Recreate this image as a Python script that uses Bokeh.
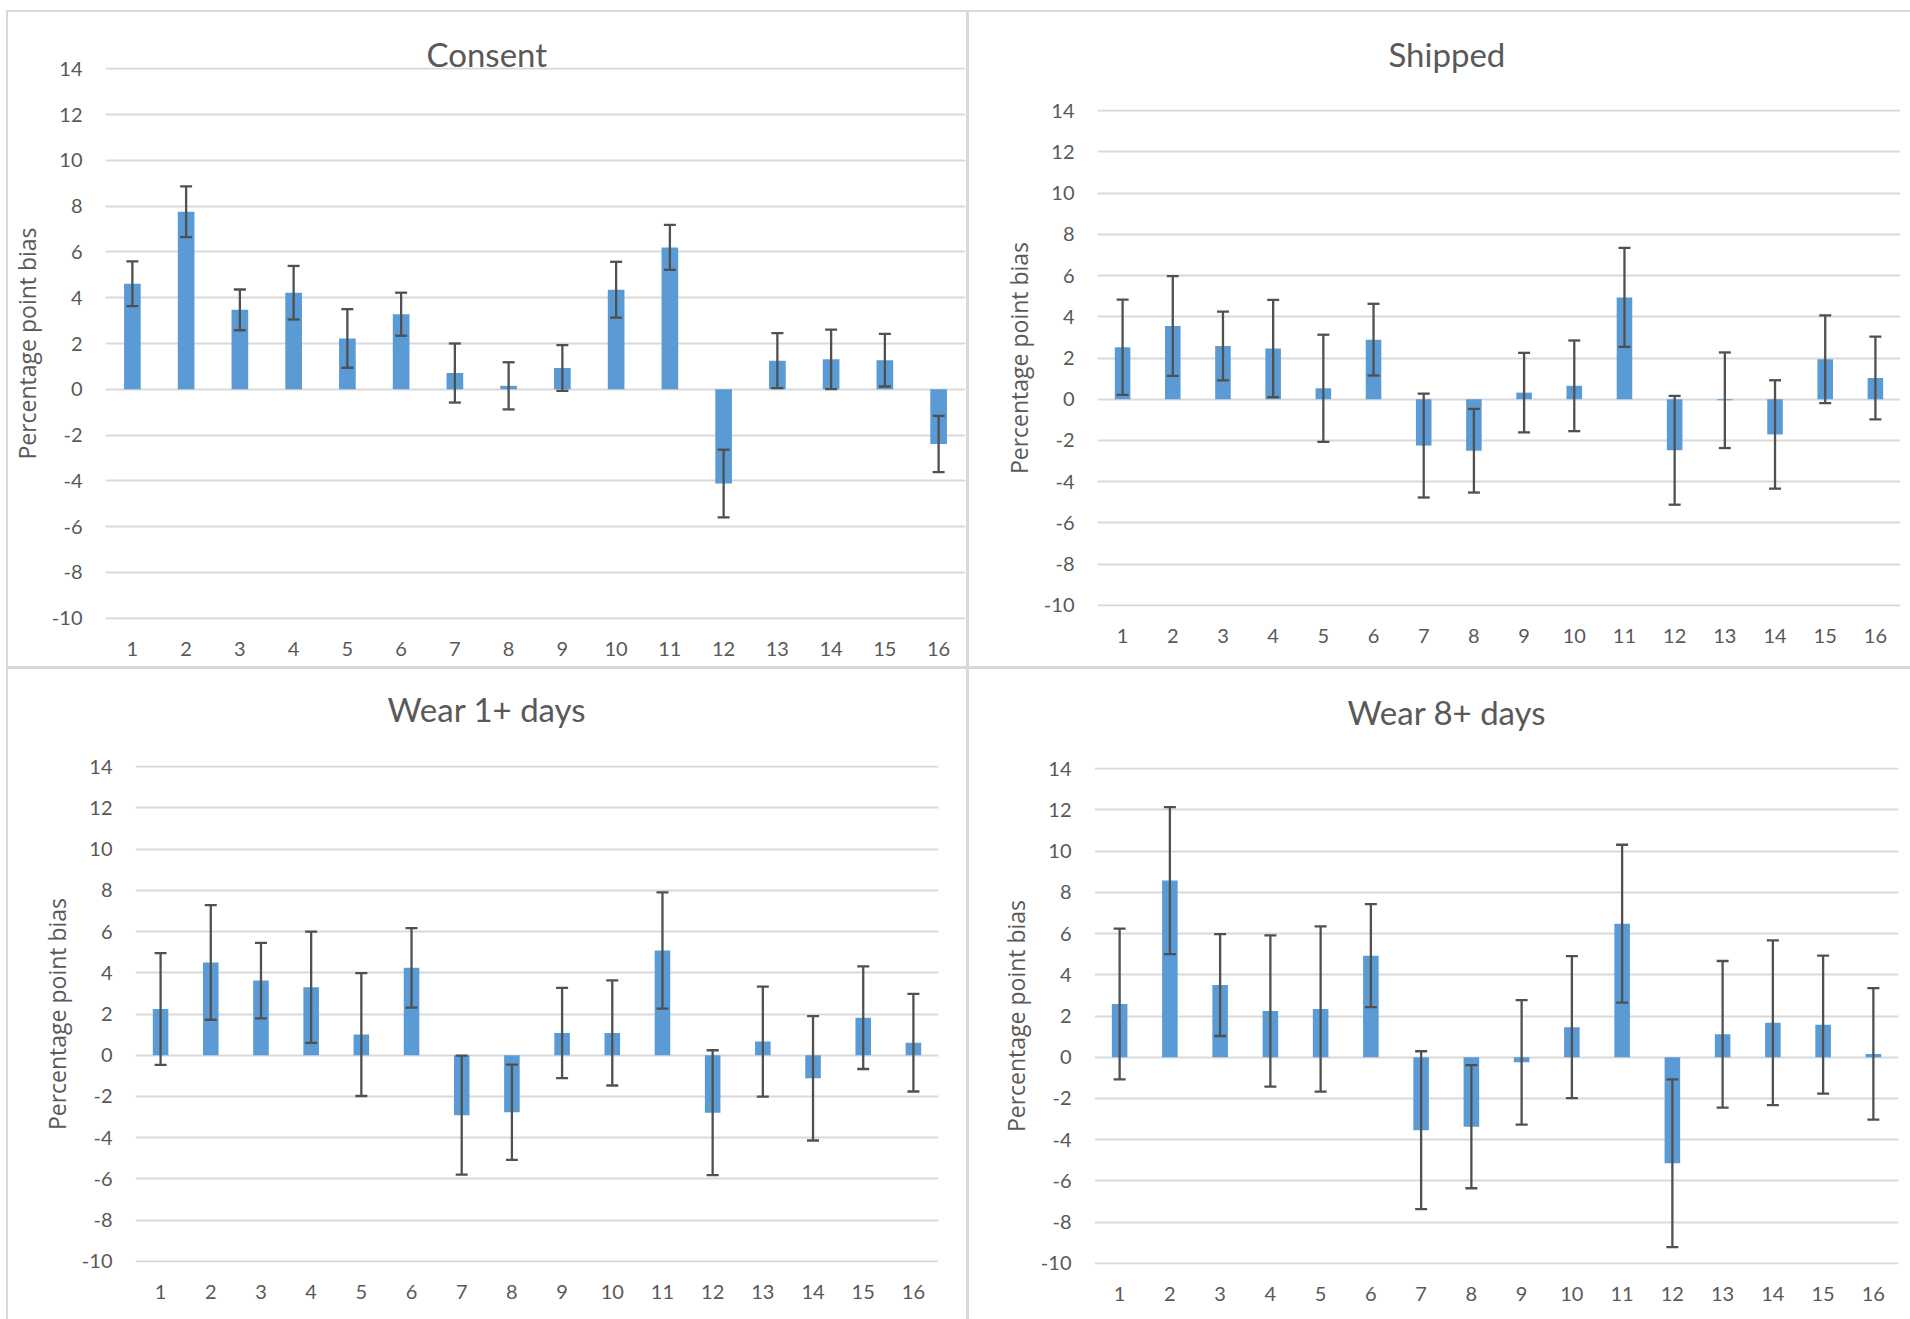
from bokeh.plotting import figure
from bokeh.models import ColumnDataSource, Range1d, FixedTicker, Whisker, TeeHead, Title
from bokeh.layouts import row, column
from bokeh.embed import file_html
from bokeh.resources import INLINE

# ---------------- data ----------------
categories = list(range(1, 17))
y_ticks = list(range(-10, 15, 2))
y_label = "Percentage point bias"
titles = ["Consent", "Shipped", "Wear 1+ days", "Wear 8+ days"]

consent_val = [4.61, 7.76, 3.47, 4.22, 2.22, 3.28, 0.71, 0.15, 0.93, 4.35, 6.20, -4.12, 1.25, 1.31, 1.27, -2.39]
consent_err = [0.98, 1.11, 0.89, 1.17, 1.28, 0.94, 1.29, 1.03, 1.00, 1.22, 0.98, 1.48, 1.20, 1.30, 1.15, 1.23]

shipped_val = [2.52, 3.55, 2.58, 2.46, 0.53, 2.89, -2.25, -2.50, 0.32, 0.65, 4.94, -2.48, -0.05, -1.71, 1.94, 1.03]
shipped_err = [2.31, 2.42, 1.67, 2.36, 2.60, 1.74, 2.52, 2.03, 1.93, 2.20, 2.40, 2.64, 2.32, 2.63, 2.13, 2.01]

wear1_val = [2.24, 4.50, 3.62, 3.30, 1.00, 4.24, -2.91, -2.77, 1.08, 1.08, 5.08, -2.79, 0.66, -1.12, 1.82, 0.61]
wear1_err = [2.71, 2.78, 1.83, 2.70, 2.98, 1.93, 2.89, 2.31, 2.19, 2.55, 2.82, 3.03, 2.67, 3.02, 2.49, 2.37]

wear8_val = [2.58, 8.57, 3.50, 2.24, 2.34, 4.93, -3.54, -3.37, -0.25, 1.46, 6.48, -5.15, 1.11, 1.67, 1.58, 0.16]
wear8_err = [3.66, 3.57, 2.47, 3.67, 4.01, 2.50, 3.83, 2.99, 3.02, 3.45, 3.83, 4.07, 3.56, 4.00, 3.35, 3.19]

# ---------------- style ----------------
BAR = "#5B9BD5"
TEXT = "#595959"
GRID = "#D9D9D9"
ERR = "#505050"
BORDER = "#D9D9D9"


def lines_css(specs):
    """Panel border lines drawn as CSS background layers: (x, y, w, h)."""
    if not specs:
        return None
    g = f"linear-gradient({BORDER},{BORDER})"
    layers = [f"{g} {x}px {y}px / {w}px {h}px no-repeat" for x, y, w, h in specs]
    return {"background": ", ".join(layers)}


def make_panel(title, vals, errs, width, height, left, right, top, bottom,
               title_offset, title_standoff, title_raise, borders):
    p = figure(width=width, height=height,
               x_range=Range1d(0.5, 16.5), y_range=Range1d(-10.06, 14.06),
               output_backend="svg", toolbar_location=None,
               min_border_left=left, min_border_right=right,
               min_border_top=top, min_border_bottom=bottom)
    css = lines_css(borders)
    if css:
        p.styles = css
    p.border_fill_color = None
    p.background_fill_color = "white"
    p.outline_line_color = None

    # a trailing empty line lifts the title one line higher above the frame
    t = Title(text=title + ("\n" if title_raise else ""), align="left",
              offset=title_offset, vertical_align="bottom",
              text_font="Lato", text_font_size="33px",
              text_font_style="normal", text_color=TEXT)
    try:
        t.standoff = title_standoff
    except Exception:
        t.standoff = 0
    p.title = t

    src = ColumnDataSource(dict(
        x=categories, val=vals,
        lo=[v - e for v, e in zip(vals, errs)],
        hi=[v + e for v, e in zip(vals, errs)],
    ))
    p.vbar(x="x", top="val", bottom=0, width=0.31, source=src,
           fill_color=BAR, line_color=None)
    w = Whisker(source=src, base="x", upper="hi", lower="lo",
                line_color=ERR, line_width=2.3, level="overlay",
                upper_head=TeeHead(size=12, line_color=ERR, line_width=2.3),
                lower_head=TeeHead(size=12, line_color=ERR, line_width=2.3))
    p.add_layout(w)

    xa = p.below[0]
    ya = p.left[0]
    xa.ticker = FixedTicker(ticks=categories)
    xa.major_label_overrides = {c: str(c) for c in categories}
    ya.ticker = FixedTicker(ticks=y_ticks)
    ya.major_label_overrides = {t_: str(t_) for t_ in y_ticks}
    for ax in (xa, ya):
        ax.axis_line_color = None
        ax.major_tick_line_color = None
        ax.minor_tick_line_color = None
        ax.major_label_text_font = "Lato"
        ax.major_label_text_font_size = "20px"
        ax.major_label_text_color = TEXT
    xa.major_label_standoff = 16
    ya.major_label_standoff = 17
    ya.axis_label = y_label
    ya.axis_label_text_font = "Open Sans"
    ya.axis_label_text_font_size = "23px"
    ya.axis_label_text_font_style = "normal"
    ya.axis_label_text_color = TEXT
    ya.axis_label_standoff = 6

    p.xgrid.visible = False
    p.ygrid.ticker = FixedTicker(ticks=y_ticks)
    p.ygrid.grid_line_color = GRID
    p.ygrid.grid_line_width = 2
    return p


p1 = make_panel(titles[0], consent_val, consent_err, 969, 669, 105, 4, 67, 50, 321, -12, False,
                [(6, 10, 2, 659), (6, 10, 963, 2), (966, 10, 3, 659), (6, 666, 963, 3)])
p2 = make_panel(titles[1], shipped_val, shipped_err, 941, 669, 128, 10, 109, 63, 291, -8, True,
                [(0, 10, 941, 2), (0, 666, 941, 3)])
p3 = make_panel(titles[2], wear1_val, wear1_err, 969, 650, 135, 31, 96, 57, 252, -7, True,
                [(6, 0, 2, 650), (966, 0, 3, 650)])
p4 = make_panel(titles[3], wear8_val, wear8_err, 941, 650, 125, 12, 98, 55, 253, -8, True, None)

layout = column(row(column(p1), column(p2)), row(column(p3), column(p4)))
open("out.html", "w").write(file_html(layout, INLINE))
